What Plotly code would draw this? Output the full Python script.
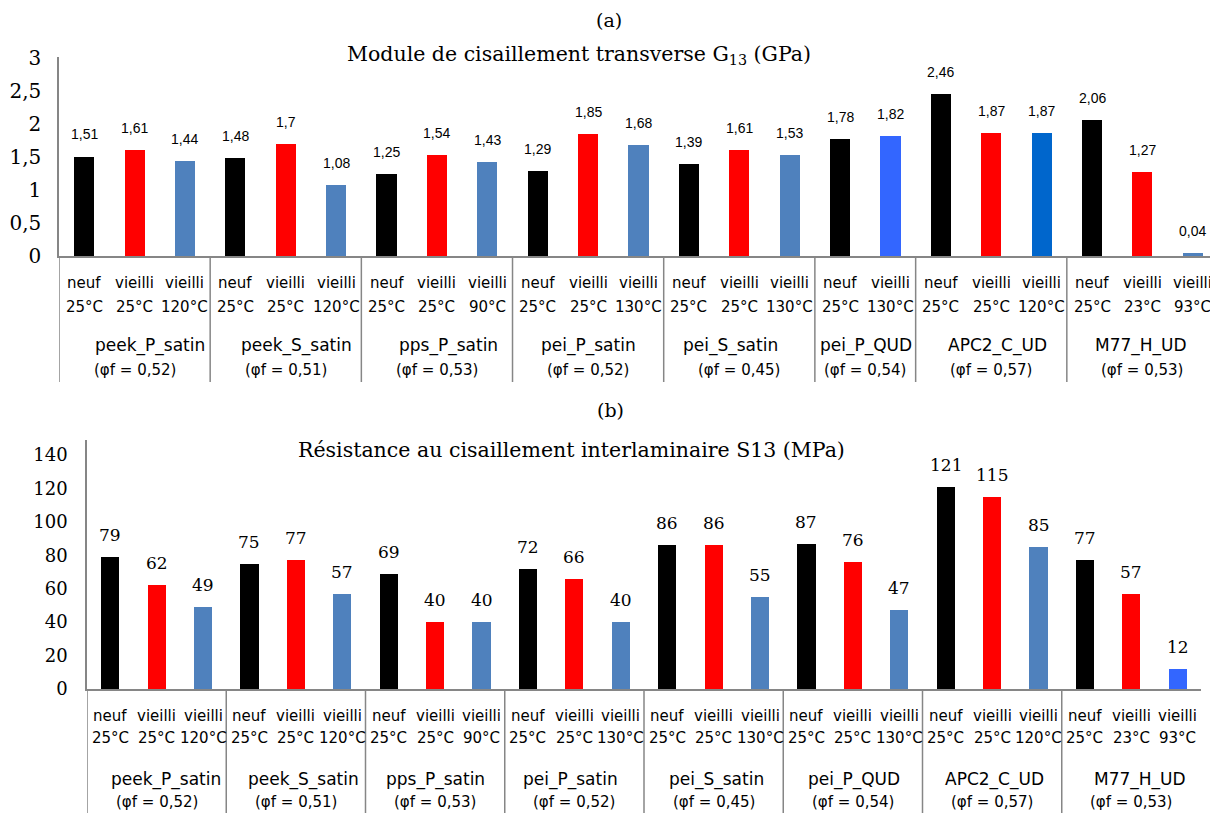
import plotly.graph_objects as go

# ---------------- data ----------------
groups = ["peek_P_satin", "peek_S_satin", "pps_P_satin", "pei_P_satin",
          "pei_S_satin", "pei_P_QUD", "APC2_C_UD", "M77_H_UD"]
fractions = ["0,52", "0,51", "0,53", "0,52", "0,45", "0,54", "0,57", "0,53"]

# (a) Module de cisaillement transverse G13 (GPa)
a_states = [["neuf", "vieilli", "vieilli"], ["neuf", "vieilli", "vieilli"],
            ["neuf", "vieilli", "vieilli"], ["neuf", "vieilli", "vieilli"],
            ["neuf", "vieilli", "vieilli"], ["neuf", "vieilli"],
            ["neuf", "vieilli", "vieilli"], ["neuf", "vieilli", "vieilli"]]
a_temps = [["25°C", "25°C", "120°C"], ["25°C", "25°C", "120°C"],
           ["25°C", "25°C", "90°C"], ["25°C", "25°C", "130°C"],
           ["25°C", "25°C", "130°C"], ["25°C", "130°C"],
           ["25°C", "25°C", "120°C"], ["25°C", "23°C", "93°C"]]
a_values = [[1.51, 1.61, 1.44], [1.48, 1.7, 1.08], [1.25, 1.54, 1.43],
            [1.29, 1.85, 1.68], [1.39, 1.61, 1.53], [1.78, 1.82],
            [2.46, 1.87, 1.87], [2.06, 1.27, 0.04]]
a_colors = [["#000000", "#FF0000", "#4F81BD"], ["#000000", "#FF0000", "#4F81BD"],
            ["#000000", "#FF0000", "#4F81BD"], ["#000000", "#FF0000", "#4F81BD"],
            ["#000000", "#FF0000", "#4F81BD"], ["#000000", "#3366FF"],
            ["#000000", "#FF0000", "#0066CC"], ["#000000", "#FF0000", "#4F81BD"]]

# (b) Résistance au cisaillement interlaminaire S13 (MPa)
b_states = [["neuf", "vieilli", "vieilli"]] * 8
b_temps = [["25°C", "25°C", "120°C"], ["25°C", "25°C", "120°C"],
           ["25°C", "25°C", "90°C"], ["25°C", "25°C", "130°C"],
           ["25°C", "25°C", "130°C"], ["25°C", "25°C", "130°C"],
           ["25°C", "25°C", "120°C"], ["25°C", "23°C", "93°C"]]
b_values = [[79, 62, 49], [75, 77, 57], [69, 40, 40], [72, 66, 40],
            [86, 86, 55], [87, 76, 47], [121, 115, 85], [77, 57, 12]]
b_colors = [["#000000", "#FF0000", "#4F81BD"]] * 7 + [["#000000", "#FF0000", "#3366FF"]]

a_yticks = [0, 0.5, 1, 1.5, 2, 2.5, 3]
b_yticks = [0, 20, 40, 60, 80, 100, 120, 140]

# small horizontal nudges of the group-name lines (styling)
a_name_shift = [15, 11, 12, 0, -9, 1, 6, -1]
b_name_shift = [9, 8, 0, -4, 3, 1, 2, 9]

W, H = 1218, 813
OX, OY = 8, 8          # page body margin offset
SANS = "DejaVu Sans"
SERIF = "DejaVu Serif"
AXIS_COLOR = "#868686"


def px(t):
    return (t - OX) / W


def py(t):
    return 1 - (t - OY) / H


def fmt(v):
    return ("%g" % v).replace(".", ",")


fig = go.Figure()
annotations = []
shapes = []


def build(values, colors, states, temps, name_shift, xaxis, yaxis, lab_font, lab_shift,
          y_state, y_temp, y_name, y_frac, sep_top, sep_bot, cat_size, bar_w):
    xs, ys, cs = [], [], []
    bounds = [-0.5]
    i = 0
    for g, (vals, cols, sts, tps) in enumerate(zip(values, colors, states, temps)):
        start = i
        for v, c, s, t in zip(vals, cols, sts, tps):
            xs.append(i)
            ys.append(v)
            cs.append(c)
            annotations.append(dict(x=i, y=v, xref=xaxis, yref=yaxis, text=fmt(v),
                                    showarrow=False, yanchor="middle", yshift=lab_shift,
                                    font=lab_font))
            annotations.append(dict(x=i, y=py(y_state), xref=xaxis, yref="paper", text=s,
                                    showarrow=False, yanchor="middle",
                                    font=dict(family=SANS, size=cat_size, color="black")))
            annotations.append(dict(x=i, y=py(y_temp), xref=xaxis, yref="paper", text=t,
                                    showarrow=False, yanchor="middle",
                                    font=dict(family=SANS, size=cat_size, color="black")))
            i += 1
        center = (start + i - 1) / 2
        annotations.append(dict(x=center, y=py(y_name), xref=xaxis, yref="paper",
                                text=groups[g], showarrow=False, yanchor="middle",
                                xshift=name_shift[g],
                                font=dict(family=SANS, size=17, color="black")))
        annotations.append(dict(x=center, y=py(y_frac), xref=xaxis, yref="paper",
                                text="(φf = " + fractions[g] + ")", showarrow=False,
                                yanchor="middle",
                                font=dict(family=SANS, size=15, color="black")))
        bounds.append(i - 0.5)
    for b in bounds[:-1]:
        shapes.append(dict(type="line", xref=xaxis, yref="paper", x0=b, x1=b,
                           y0=py(sep_bot), y1=py(sep_top),
                           line=dict(color=AXIS_COLOR, width=1.5)))
    fig.add_trace(go.Bar(x=xs, y=ys, marker=dict(color=cs, line=dict(width=0)),
                         width=bar_w, xaxis=xaxis, yaxis=yaxis, showlegend=False,
                         hoverinfo="skip"))
    return i


na = build(a_values, a_colors, a_states, a_temps, a_name_shift, "x", "y",
           dict(family="Liberation Sans", size=14, color="black"), 22,
           283, 307, 346, 370, 256, 382, 15, 0.4)
nb = build(b_values, b_colors, b_states, b_temps, b_name_shift, "x2", "y2",
           dict(family=SERIF, size=17, color="black"), 22,
           716, 738, 779, 802, 689, 821, 15, 0.39)

# titles
annotations += [
    dict(x=px(609), y=py(20), xref="paper", yref="paper", text="(a)", showarrow=False,
         yanchor="middle", font=dict(family=SERIF, size=19, color="black")),
    dict(x=px(579), y=py(55), xref="paper", yref="paper",
         text="Module de cisaillement transverse G<sub>13</sub> (GPa)", showarrow=False,
         yanchor="middle", font=dict(family=SERIF, size=20.5, color="black")),
    dict(x=px(610), y=py(410), xref="paper", yref="paper", text="(b)", showarrow=False,
         yanchor="middle", font=dict(family=SERIF, size=19, color="black")),
    dict(x=px(571), y=py(450), xref="paper", yref="paper",
         text="Résistance au cisaillement interlaminaire S13 (MPa)", showarrow=False,
         yanchor="middle", font=dict(family=SERIF, size=20.5, color="black")),
]

axis_common = dict(showgrid=False, zeroline=False, showline=True, linecolor=AXIS_COLOR,
                   linewidth=1.5, ticks="", fixedrange=True, automargin=False)

fig.update_layout(
    width=W, height=H,
    margin=dict(l=0, r=0, t=0, b=0, pad=0, autoexpand=False),
    paper_bgcolor="white", plot_bgcolor="white",
    bargap=0,
    xaxis=dict(domain=[px(59), px(1218)], range=[-0.5, na - 0.5], showticklabels=False,
               anchor="y", **axis_common),
    yaxis=dict(domain=[py(256), py(57)], range=[0, 3.02], tickvals=a_yticks,
               ticktext=[fmt(v) for v in a_yticks], anchor="x",
               tickfont=dict(family=SERIF, size=20, color="black"),
               ticklabelstandoff=12, **axis_common),
    xaxis2=dict(domain=[px(87), px(1201)], range=[-0.5, nb - 0.5], showticklabels=False,
                anchor="y2", **axis_common),
    yaxis2=dict(domain=[py(689), py(440)], range=[0, 149], tickvals=b_yticks,
                ticktext=[str(v) for v in b_yticks], anchor="x2",
                tickfont=dict(family=SERIF, size=18, color="black"),
                ticklabelstandoff=14, **axis_common),
    annotations=annotations,
    shapes=shapes,
)

fig.write_html("out.html")
